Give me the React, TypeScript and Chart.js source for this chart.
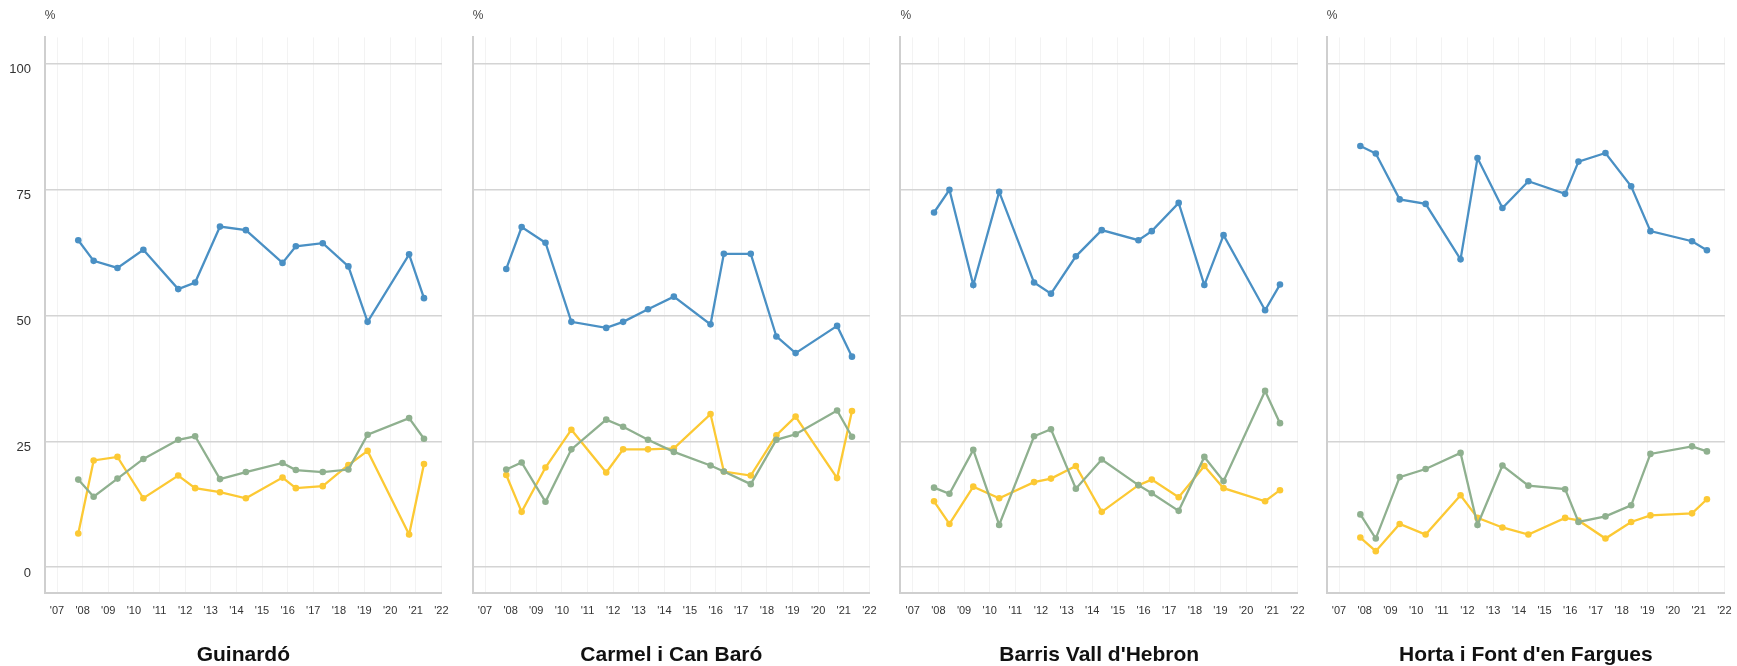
import React, { useEffect, useRef } from "react";
import { Chart, registerables } from "chart.js";

Chart.register(...registerables);

// ---- Data ----
const DATES = [2007.83, 2008.43, 2009.36, 2010.37, 2011.73, 2012.39, 2013.36, 2014.37, 2015.8, 2016.32, 2017.37, 2018.37, 2019.12, 2020.74, 2021.32];
const YEAR_TICKS = [2007, 2008, 2009, 2010, 2011, 2012, 2013, 2014, 2015, 2016, 2017, 2018, 2019, 2020, 2021, 2022];
const YEAR_LABELS = ["'07", "'08", "'09", "'10", "'11", "'12", "'13", "'14", "'15", "'16", "'17", "'18", "'19", "'20", "'21", "'22"];
const Y_TICKS = [0, 25, 50, 75, 100];
const PANEL_NAMES = ["Guinardó", "Carmel i Can Baró", "Barris Vall d'Hebron", "Horta i Font d'en Fargues"];

const GUINARDO_BLUE = [64.9, 60.8, 59.4, 63.0, 55.2, 56.5, 67.6, 66.9, 60.4, 63.7, 64.3, 59.7, 48.7, 62.1, 53.4];
const GUINARDO_GREEN = [17.4, 14.0, 17.6, 21.5, 25.3, 26.0, 17.5, 18.9, 20.7, 19.3, 18.9, 19.4, 26.3, 29.6, 25.5];
const GUINARDO_YELLOW = [6.7, 21.2, 21.9, 13.7, 18.2, 15.7, 14.9, 13.7, 17.8, 15.7, 16.1, 20.3, 23.1, 6.5, 20.5];

const CARMEL_BLUE = [59.2, 67.5, 64.4, 48.7, 47.5, 48.7, 51.2, 53.7, 48.2, 62.2, 62.2, 45.8, 42.5, 47.9, 41.8];
const CARMEL_GREEN = [19.4, 20.8, 13.0, 23.4, 29.3, 27.9, 25.3, 22.9, 20.2, 19.0, 16.5, 25.3, 26.4, 31.1, 25.9];
const CARMEL_YELLOW = [18.3, 11.0, 19.8, 27.3, 18.8, 23.4, 23.4, 23.6, 30.4, 19.0, 18.2, 26.2, 29.9, 17.7, 31.0];

const VALL_BLUE = [70.4, 74.9, 56.0, 74.5, 56.5, 54.3, 61.7, 66.9, 64.9, 66.7, 72.3, 56.0, 65.9, 51.0, 56.1];
const VALL_GREEN = [15.8, 14.6, 23.3, 8.4, 26.0, 27.4, 15.6, 21.4, 16.3, 14.7, 11.2, 21.9, 17.1, 35.0, 28.6];
const VALL_YELLOW = [13.1, 8.6, 16.0, 13.7, 16.9, 17.6, 20.1, 11.0, 16.3, 17.4, 13.9, 20.1, 15.7, 13.1, 15.3];

const HORTA_BLUE = [83.6, 82.1, 73.0, 72.1, 61.1, 81.2, 71.3, 76.6, 74.1, 80.5, 82.2, 75.6, 66.7, 64.7, 62.9];
const HORTA_GREEN = [10.5, 5.7, 17.9, 19.5, 22.7, 8.4, 20.2, 16.2, 15.5, 9.0, 10.1, 12.3, 22.5, 24.0, 23.0];
const HORTA_YELLOW = [5.9, 3.2, 8.6, 6.5, 14.3, 9.8, 7.9, 6.5, 9.8, 9.3, 5.7, 9.0, 10.3, 10.7, 13.5];

const PANEL_SERIES = [
  [GUINARDO_BLUE, GUINARDO_GREEN, GUINARDO_YELLOW],
  [CARMEL_BLUE, CARMEL_GREEN, CARMEL_YELLOW],
  [VALL_BLUE, VALL_GREEN, VALL_YELLOW],
  [HORTA_BLUE, HORTA_GREEN, HORTA_YELLOW],
];

// ---- Styles ----
const COLORS = ["#4a90c4", "#8fb08f", "#fcc934"];
const FONT = "'Liberation Sans', Arial, Helvetica, sans-serif";
const AXIS_X = [44.7, 472.7, 900, 1326.7];
const PLOT_W = 405.3;
const H = 666;

function Panel({ index }: { index: number }) {
  const ref = useRef<HTMLCanvasElement | null>(null);
  const left = index === 0 ? 0 : Math.floor(AXIS_X[index] - 6);
  const yw = AXIS_X[index] - left;
  const W = Math.ceil(yw + PLOT_W + 10);
  const padRight = W - yw - PLOT_W;

  useEffect(() => {
    if (!ref.current) return;
    const series = PANEL_SERIES[index];
    const chart = new Chart(ref.current, {
      type: "line",
      data: {
        datasets: series.map((vals, k) => ({
          data: vals.map((v, j) => ({ x: DATES[j], y: v })),
          borderColor: COLORS[k],
          backgroundColor: COLORS[k],
          pointBackgroundColor: COLORS[k],
          pointBorderColor: COLORS[k],
          pointRadius: 3.3,
          pointBorderWidth: 0,
          borderWidth: 2.3,
          tension: 0,
          fill: false,
        })),
      },
      options: {
        responsive: false,
        animation: false,
        events: [],
        layout: { padding: { top: 0, bottom: 0, left: 0, right: padRight } },
        plugins: {
          legend: { display: false },
          tooltip: { enabled: false },
          subtitle: {
            display: true,
            text: "%",
            position: "top",
            align: "start",
            fullSize: false,
            color: "#444",
            font: { family: FONT, size: 12, lineHeight: 1.2 },
            padding: { top: 8, bottom: 15 },
          },
          title: {
            display: true,
            text: PANEL_NAMES[index],
            position: "bottom",
            align: "center",
            fullSize: false,
            color: "#111",
            font: { family: FONT, size: 21, weight: "bold", lineHeight: 1 },
            padding: { top: 12.3, bottom: 0 },
          },
        },
        scales: {
          x: {
            type: "linear",
            min: 2006.52,
            max: 2022.02,
            afterBuildTicks: (axis: any) => {
              axis.ticks = YEAR_TICKS.map((v) => ({ value: v }));
            },
            afterFit: (scale: any) => {
              scale.height = 40;
            },
            grid: { color: "#f3f3f3", lineWidth: 1, drawTicks: false },
            border: { display: true, color: "#cfcfcf", width: 2 },
            ticks: {
              autoSkip: false,
              maxRotation: 0,
              padding: 11.4,
              color: "#333",
              font: { family: FONT, size: 11 },
              callback: (_v: any, i: number) => YEAR_LABELS[i],
            },
          },
          y: {
            type: "linear",
            min: -5.04,
            max: 105.14,
            afterBuildTicks: (axis: any) => {
              axis.ticks = Y_TICKS.map((v) => ({ value: v }));
            },
            afterFit: (scale: any) => {
              scale.width = yw;
            },
            grid: { color: "#d4d4d4", lineWidth: 1.6, drawTicks: false },
            border: { display: true, color: "#cfcfcf", width: 2 },
            ticks: {
              display: index === 0,
              padding: 13.7,
              labelOffset: 6,
              color: "#333",
              font: { family: FONT, size: 13 },
              callback: (v: any) => String(v),
            },
          },
        },
      },
    } as any);
    return () => chart.destroy();
  }, [index]);

  return (
    <div style={{ position: "absolute", left, top: 0, width: W, height: H }}>
      <canvas ref={ref} width={W} height={H} style={{ width: W, height: H, display: "block" }} />
    </div>
  );
}

export default function App() {
  return (
    <div
      style={{
        position: "absolute",
        left: 0,
        top: 0,
        width: 1737,
        height: H,
        overflow: "hidden",
        background: "#ffffff",
      }}
    >
      {PANEL_NAMES.map((_, i) => (
        <Panel key={i} index={i} />
      ))}
    </div>
  );
}
